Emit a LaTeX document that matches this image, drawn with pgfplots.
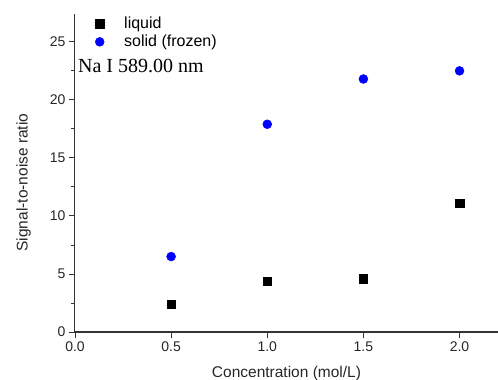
\documentclass[border=0pt]{standalone}
\usepackage{pgfplots}
\pgfplotsset{compat=1.18}
\usepackage{fontspec}
\setmainfont{Liberation Sans}
\newfontfamily\timesfont{Liberation Serif}
\begin{document}
\begin{tikzpicture}
\begin{axis}[
  at={(0,0)}, anchor=south west,
  scale only axis,
  width=423pt, height=318pt,
  xmin=0, xmax=2.2, ymin=0, ymax=27.4,
  axis x line=bottom, axis y line=left,
  axis line style={-, line width=1pt, black!80},
  xtick={0,0.5,1,1.5,2},
  ytick={0,5,10,15,20,25},
  minor ytick={2.5,7.5,12.5,17.5,22.5},
  xticklabel style={/pgf/number format/fixed, /pgf/number format/fixed zerofill, /pgf/number format/precision=1},
  tick align=outside,
  major tick length=6pt, minor tick length=4pt,
  tick style={line width=0.9pt, black!80},
  /pgf/number format/assume math mode=true,
  ticklabel style={font=\fontsize{14}{16}\selectfont, black!85},
  xlabel={Concentration (mol/L)},
  ylabel={Signal-to-noise ratio},
  label style={font=\fontsize{15.5}{18}\selectfont, black!85},
  xlabel style={at={(axis description cs:0.5,0)}, anchor=base, yshift=-45pt},
  ylabel style={at={(axis description cs:-0.112,0.47)}, anchor=base},
  legend style={draw=none, fill=none, at={(0.045,1.0)}, anchor=north west, font=\fontsize{16}{18}\selectfont, row sep=1pt, inner sep=1pt},
  legend cell align=left,
  clip=false,
]
\addplot[only marks, mark=square*, mark size=4.2pt, black] coordinates {
 (0.5,2.4) (1.0,4.4) (1.5,4.6) (2.0,11.1)
};
\addlegendentry{\hspace{18pt}liquid}
\addplot[only marks, mark=*, mark size=4.5pt, blue, mark options={fill=blue, draw=blue}] coordinates {
 (0.5,6.5) (1.0,17.9) (1.5,21.8) (2.0,22.5)
};
\addlegendentry{\hspace{18pt}solid (frozen)}
\node[anchor=west, font=\timesfont\fontsize{20}{22}\selectfont, inner sep=0pt] at (axis cs:0.015,22.95) {Na I 589.00 nm};
\end{axis}
\pgfresetboundingbox
\path (-75pt,-48pt) rectangle (423pt,332pt);
\end{tikzpicture}
\end{document}
